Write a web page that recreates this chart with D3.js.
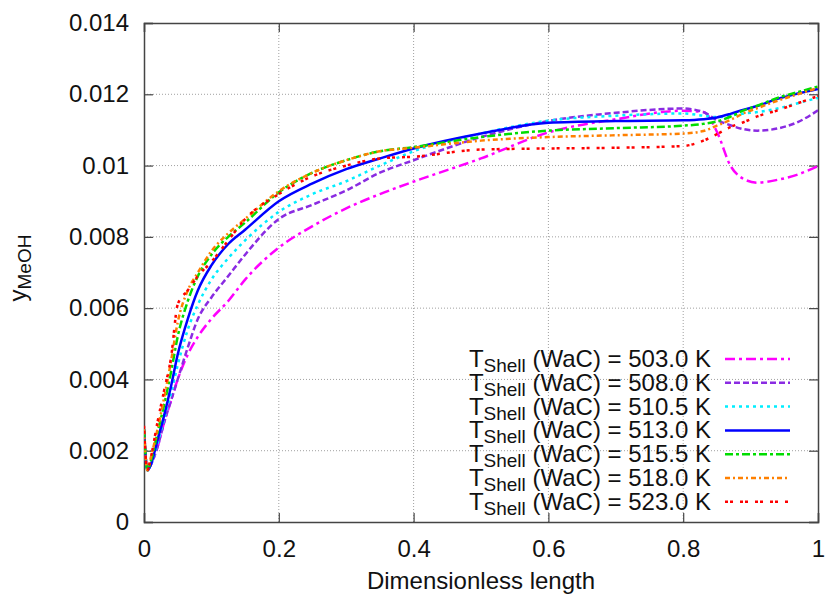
<!DOCTYPE html>
<html>
<head>
<meta charset="utf-8">
<script src="https://cdn.jsdelivr.net/npm/d3@7"></script>
<style>
  html, body { margin: 0; padding: 0; background: #fff; }
  svg { display: block; font-family: "Liberation Sans", Arial, Helvetica, sans-serif; }
</style>
</head>
<body>
<svg id="chart" width="825" height="596"></svg>
<script>
// ---- data ----
const xs = [0, 0.005, 0.01, 0.02, 0.03, 0.04, 0.05, 0.065, 0.08, 0.1, 0.125, 0.15, 0.2, 0.25, 0.3, 0.35, 0.4, 0.5, 0.6, 0.7, 0.8, 0.83, 0.85, 0.87, 0.89, 0.91, 0.94, 0.97, 1.0];

const y503 = [0.0026, 0.00145, 0.0016, 0.0021, 0.0028, 0.0034, 0.0040, 0.0047, 0.0052, 0.0057, 0.0062, 0.0068, 0.0077, 0.0083, 0.0088, 0.0092, 0.00955, 0.0102, 0.01093, 0.0113, 0.01154, 0.0115, 0.01095, 0.0100, 0.00962, 0.00952, 0.0096, 0.00975, 0.00998];
const y508 = [0.0026, 0.00145, 0.0016, 0.0021, 0.0028, 0.0034, 0.0040, 0.0049, 0.0057, 0.0063, 0.0069, 0.0075, 0.0085, 0.0089, 0.0093, 0.0098, 0.01015, 0.0108, 0.01125, 0.01148, 0.0116, 0.0115, 0.01128, 0.01113, 0.01102, 0.01098, 0.01104, 0.01122, 0.01155];
const y510 = [0.0026, 0.00145, 0.0016, 0.0022, 0.0029, 0.0036, 0.0044, 0.0054, 0.0061, 0.0068, 0.0074, 0.0079, 0.0087, 0.0092, 0.00956, 0.0100, 0.0104, 0.0109, 0.01126, 0.0114, 0.01146, 0.0114, 0.01136, 0.0114, 0.01146, 0.0115, 0.0116, 0.01175, 0.0119];
const y513 = [0.0026, 0.00145, 0.0016, 0.0023, 0.0030, 0.0038, 0.0047, 0.0057, 0.0065, 0.0072, 0.0078, 0.0082, 0.0090, 0.0095, 0.0099, 0.0102, 0.01048, 0.0109, 0.0112, 0.01125, 0.01127, 0.0113, 0.01135, 0.01145, 0.01157, 0.01167, 0.01187, 0.01202, 0.01215];
const y515 = [0.0026, 0.00145, 0.0017, 0.0025, 0.0033, 0.0042, 0.0052, 0.0062, 0.0069, 0.0075, 0.0080, 0.0084, 0.00925, 0.0098, 0.01015, 0.0104, 0.01052, 0.0108, 0.01098, 0.01105, 0.01112, 0.01117, 0.01124, 0.01137, 0.01155, 0.01168, 0.0119, 0.01206, 0.01222];
const y518 = [0.0026, 0.00145, 0.0018, 0.0026, 0.0035, 0.0045, 0.0056, 0.0065, 0.0070, 0.0076, 0.0081, 0.0085, 0.00928, 0.0098, 0.01015, 0.0104, 0.0105, 0.0107, 0.0108, 0.01085, 0.0109, 0.01097, 0.01112, 0.01128, 0.01147, 0.01161, 0.01182, 0.0120, 0.01218];
const y523 = [0.0027, 0.00145, 0.0018, 0.0028, 0.0037, 0.0046, 0.0061, 0.0065, 0.0069, 0.0073, 0.0079, 0.0085, 0.0092, 0.0097, 0.0100, 0.0102, 0.01025, 0.01045, 0.01048, 0.0105, 0.01055, 0.0107, 0.01088, 0.01108, 0.01122, 0.01138, 0.01155, 0.01175, 0.01195];

const seriesLabels = ["503.0", "508.0", "510.5", "513.0", "515.5", "518.0", "523.0"];
const seriesValues = [y503, y508, y510, y513, y515, y518, y523];

const xTicks = [0, 0.2, 0.4, 0.6, 0.8, 1];
const xTickLabels = ["0", "0.2", "0.4", "0.6", "0.8", "1"];
const yTicks = [0, 0.002, 0.004, 0.006, 0.008, 0.01, 0.012, 0.014];
const yTickLabels = ["0", "0.002", "0.004", "0.006", "0.008", "0.01", "0.012", "0.014"];

// ---- styles ----
const colors = ["#ff00ff", "#8a2be2", "#00eeff", "#0000ff", "#00dd00", "#ff8000", "#ff0000"];
const dashes = ["10,4,3,4", "6,3", "3,4", null, "8,3,3,3", "5,3,2,3", "3,2,3,7"];
const widths = [2.5, 2.5, 2.5, 2.5, 2.5, 2.5, 2.5];

// ---- layout ----
const L = 144, R = 818, T = 23, B = 522;
const svg = d3.select("#chart");
const x = d3.scaleLinear().domain([0, 1]).range([L, R]);
const y = d3.scaleLinear().domain([0, 0.014]).range([B, T]);
const FS = 24, SUB = 19;

// grid
const grid = svg.append("g");
grid.selectAll("line.gx").data(xTicks.slice(1, -1)).enter().append("line")
  .attr("x1", d => x(d)).attr("x2", d => x(d)).attr("y1", T).attr("y2", B)
  .attr("stroke", "#a0a0a0").attr("stroke-width", 1).attr("stroke-dasharray", "1,2");
grid.selectAll("line.gy").data(yTicks.slice(1, -1)).enter().append("line")
  .attr("x1", L).attr("x2", R).attr("y1", d => y(d)).attr("y2", d => y(d))
  .attr("stroke", "#a0a0a0").attr("stroke-width", 1).attr("stroke-dasharray", "1,2");

// axes via d3 axis (inward ticks)
const tickLen = 9;
const axB = svg.append("g").attr("transform", `translate(0,${B})`)
  .call(d3.axisBottom(x).tickValues(xTicks).tickSize(-tickLen).tickPadding(22).tickFormat((d, i) => xTickLabels[i]));
const axT = svg.append("g").attr("transform", `translate(0,${T})`)
  .call(d3.axisTop(x).tickValues(xTicks).tickSize(-tickLen).tickFormat(""));
const axL = svg.append("g").attr("transform", `translate(${L},0)`)
  .call(d3.axisLeft(y).tickValues(yTicks).tickSize(-tickLen).tickPadding(15).tickFormat((d, i) => yTickLabels[i]));
const axR = svg.append("g").attr("transform", `translate(${R},0)`)
  .call(d3.axisRight(y).tickValues(yTicks).tickSize(-tickLen).tickFormat(""));
[axB, axT, axL, axR].forEach(a => {
  a.select(".domain").attr("stroke", "#444").attr("stroke-width", 1.5);
  a.selectAll(".tick line").attr("stroke", "#444").attr("stroke-width", 1.2);
  a.selectAll(".tick text").attr("font-size", FS).attr("fill", "#111")
    .attr("font-family", "Liberation Sans, Arial, sans-serif");
});
axB.selectAll(".tick text").attr("dy", "0.55em");

// curves
const clipId = "plotclip";
svg.append("clipPath").attr("id", clipId).append("rect")
  .attr("x", L).attr("y", T).attr("width", R - L).attr("height", B - T);
const line = d3.line().x(d => x(d[0])).y(d => y(d[1])).curve(d3.curveMonotoneX);
const lines = svg.append("g").attr("clip-path", `url(#${clipId})`);
seriesValues.forEach((vals, i) => {
  const pts = xs.map((xv, j) => [xv, vals[j]]);
  lines.append("path").datum(pts)
    .attr("d", line)
    .attr("fill", "none")
    .attr("stroke", colors[i])
    .attr("stroke-width", widths[i])
    .attr("stroke-dasharray", dashes[i])
    .attr("stroke-linejoin", "round");
});

// legend
const legX = 711, legY0 = 359, legDy = 23.8;
const leg = svg.append("g");
seriesLabels.forEach((lab, i) => {
  const cy = legY0 + i * legDy;
  const t = leg.append("text").attr("x", legX).attr("y", cy + 8)
    .attr("text-anchor", "end").attr("font-size", FS).attr("fill", "#111");
  t.append("tspan").text("T");
  t.append("tspan").attr("font-size", SUB).attr("dy", 5).text("Shell");
  t.append("tspan").attr("dy", -5).text(` (WaC) = ${lab} K`);
  leg.append("line").attr("x1", 725).attr("x2", 790).attr("y1", cy).attr("y2", cy)
    .attr("stroke", colors[i]).attr("stroke-width", widths[i])
    .attr("stroke-dasharray", dashes[i]);
});

// axis titles
svg.append("text").attr("x", (L + R) / 2).attr("y", 589)
  .attr("text-anchor", "middle").attr("font-size", FS).attr("fill", "#111")
  .text("Dimensionless length");
const yt = svg.append("text").attr("transform", "translate(26,268) rotate(-90)")
  .attr("text-anchor", "middle").attr("font-size", FS).attr("fill", "#111");
yt.append("tspan").text("y");
yt.append("tspan").attr("font-size", SUB).attr("dy", 5).text("MeOH");
</script>
</body>
</html>
